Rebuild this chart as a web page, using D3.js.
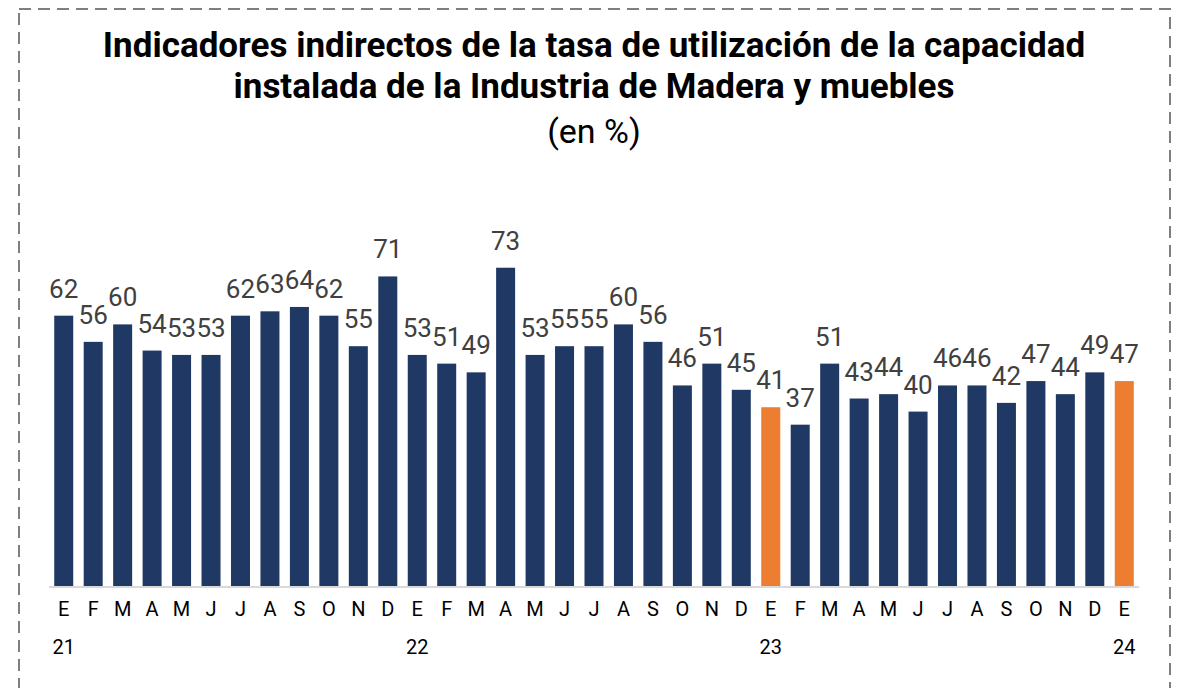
<!DOCTYPE html>
<html>
<head>
<meta charset="utf-8">
<script src="https://cdn.jsdelivr.net/npm/d3@7"></script>
<style>
  body { margin: 0; background: #fff; }
  svg { display: block; font-family: Roboto, "Noto Sans", sans-serif; }
</style>
</head>
<body>
<div id="viz"></div>
<script>
// meses (E = enero ... D = diciembre), de ene-21 a ene-24
let months = ['E','F','M','A','M','J','J','A','S','O','N','D',
              'E','F','M','A','M','J','J','A','S','O','N','D',
              'E','F','M','A','M','J','J','A','S','O','N','D','E'];
let years = ['21','','','','','','','','','','','',
             '22','','','','','','','','','','','',
             '23','','','','','','','','','','','','24'];
let values = [62,56,60,54,53,53,62,63,64,62,55,71,
              53,51,49,73,53,55,55,60,56,46,51,45,
              41,37,51,43,44,40,46,46,42,47,44,49,47];
let highlight = [24, 36]; // enero 23 y enero 24

let width = 1183, height = 688;
let baseY = 586;

let svg = d3.select('#viz').append('svg')
    .attr('width', width)
    .attr('height', height);

// borde punteado
svg.append('rect')
    .attr('x', 19).attr('y', 9)
    .attr('width', 1151).attr('height', 700)
    .attr('fill', 'none')
    .attr('stroke', '#7f7f7f')
    .attr('stroke-width', 2)
    .attr('stroke-dasharray', '12,7');

// titulo
let title = svg.append('text')
    .attr('text-anchor', 'middle')
    .attr('font-weight', 'bold')
    .attr('font-size', 35)
    .attr('fill', '#000');
title.append('tspan').attr('x', 594).attr('y', 57)
    .text('Indicadores indirectos de la tasa de utilización de la capacidad');
title.append('tspan').attr('x', 594).attr('y', 98)
    .text('instalada de la Industria de Madera y muebles');
svg.append('text')
    .attr('x', 594).attr('y', 143)
    .attr('text-anchor', 'middle')
    .attr('font-size', 34)
    .attr('fill', '#000')
    .text('(en %)');

let idx = d3.range(values.length);

let xScale = d3.scaleBand()
    .domain(idx)
    .range([49, 1139])
    .paddingInner(0.355)
    .paddingOuter(0.1775);

let yScale = d3.scaleLinear()
    .domain([0, 100])
    .range([baseY, 150]);

// barras
svg.append('g').selectAll('rect').data(values)
  .enter().append('rect')
    .attr('x', function(d, i){ return xScale(i); })
    .attr('y', function(d){ return yScale(d); })
    .attr('width', xScale.bandwidth())
    .attr('height', function(d){ return baseY - yScale(d); })
    .attr('fill', function(d, i){
      return highlight.indexOf(i) >= 0 ? '#ed7d31' : '#203864';
    });

// eje
svg.append('line')
    .attr('x1', 49).attr('x2', 1139)
    .attr('y1', baseY + 1).attr('y2', baseY + 1)
    .attr('stroke', '#d9d9d9')
    .attr('stroke-width', 2);

// etiquetas de valor
svg.append('g').selectAll('text').data(values)
  .enter().append('text')
    .attr('x', function(d, i){ return xScale(i) + xScale.bandwidth() / 2; })
    .attr('y', function(d){ return yScale(d) - 18; })
    .attr('text-anchor', 'middle')
    .attr('font-size', 26)
    .attr('fill', '#404040')
    .text(function(d){ return d; });

// meses
svg.append('g').selectAll('text').data(months)
  .enter().append('text')
    .attr('x', function(d, i){ return xScale(i) + xScale.bandwidth() / 2; })
    .attr('y', 616)
    .attr('text-anchor', 'middle')
    .attr('font-size', 20)
    .attr('fill', '#000')
    .text(function(d){ return d; });

// años
svg.append('g').selectAll('text').data(years)
  .enter().append('text')
    .attr('x', function(d, i){ return xScale(i) + xScale.bandwidth() / 2; })
    .attr('y', 654)
    .attr('text-anchor', 'middle')
    .attr('font-size', 20)
    .attr('fill', '#000')
    .text(function(d){ return d; });
</script>
</body>
</html>
